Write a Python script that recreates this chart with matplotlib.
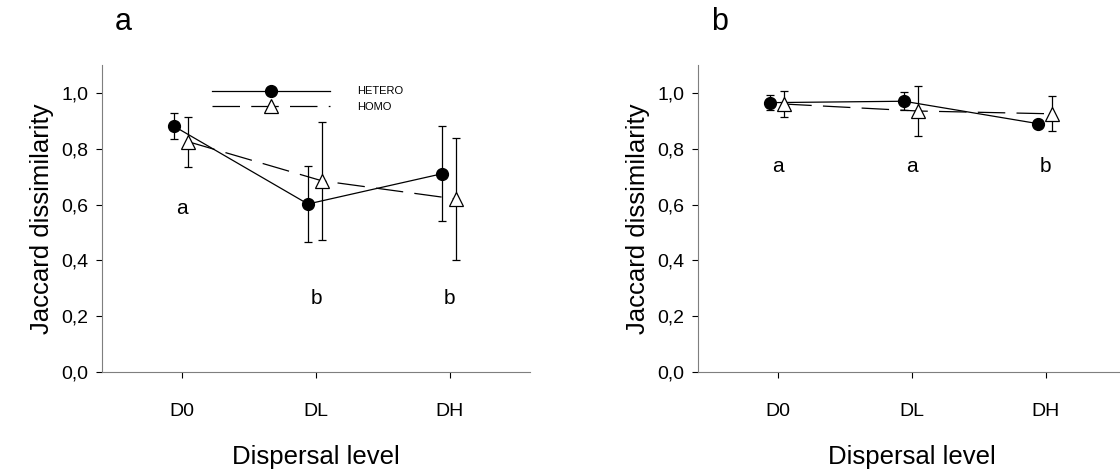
import matplotlib.pyplot as plt
from matplotlib.lines import Line2D
import numpy as np

plt.rcParams['font.family'] = ['Liberation Sans', 'DejaVu Sans']

levels = ['D0', 'DL', 'DH']

# panel a
hetero_a = [0.88, 0.602, 0.71]
hetero_a_err = [0.047, 0.135, 0.17]
homo_a = [0.825, 0.685, 0.62]
homo_a_err = [0.09, 0.212, 0.218]
letters_a = ['a', 'b', 'b']
letters_a_y = [0.585, 0.265, 0.265]

# panel b
hetero_b = [0.965, 0.97, 0.89]
hetero_b_err = [0.027, 0.033, 0.01]
homo_b = [0.96, 0.935, 0.925]
homo_b_err = [0.045, 0.09, 0.063]
letters_b = ['a', 'a', 'b']
letters_b_y = [0.735, 0.735, 0.735]

yticks = [0.0, 0.2, 0.4, 0.6, 0.8, 1.0]
ytick_labels = ['0,0', '0,2', '0,4', '0,6', '0,8', '1,0']

fig = plt.figure(figsize=(11.2, 4.74), dpi=100)
ax_a = fig.add_axes([0.0911, 0.215, 0.382, 0.648])
ax_b = fig.add_axes([0.6232, 0.215, 0.382, 0.648])

x = np.arange(1, 4)
spine_col = '#7f7f7f'
het_style = dict(color='black', lw=0.9, marker='o', ms=8.5,
                 mfc='black', mec='black')
hom_style = dict(color='black', lw=0.9, ls=(0, (22, 9)), marker='^', ms=10,
                 mfc='white', mec='black', mew=0.9)


def draw_panel(ax, het, het_err, hom, hom_err, letters, letters_y, tag):
    ax.errorbar(x - 0.06, het, yerr=het_err, capsize=3, elinewidth=0.9,
                capthick=0.9, zorder=3, **het_style)
    ax.errorbar(x + 0.045, hom, yerr=hom_err, capsize=3, elinewidth=0.9,
                capthick=0.9, zorder=3, **hom_style)
    for xi, t, ty in zip(x, letters, letters_y):
        ax.text(xi, ty, t, ha='center', va='center', fontsize=15)
    ax.set_xlim(0.4, 3.6)
    ax.set_ylim(0, 1.1)
    ax.set_xticks(x)
    ax.set_xticklabels(levels, fontsize=14)
    ax.set_yticks(yticks)
    ax.set_yticklabels(ytick_labels, fontsize=14)
    ax.spines['top'].set_visible(False)
    ax.spines['right'].set_visible(False)
    ax.spines['left'].set_color(spine_col)
    ax.spines['bottom'].set_color(spine_col)
    ax.tick_params(axis='both', direction='out', length=4, width=0.8,
                   color='black')
    ax.tick_params(axis='x', pad=18)
    ax.tick_params(axis='y', pad=6)
    ax.set_xlabel('Dispersal level', fontsize=18.5, labelpad=18)
    ax.set_ylabel('Jaccard dissimilarity', fontsize=18.5, labelpad=5)
    ax.text(0.05, 1.14, tag, transform=ax.transAxes, fontsize=22,
            ha='center', va='center')


draw_panel(ax_a, hetero_a, hetero_a_err, homo_a, homo_a_err,
           letters_a, letters_a_y, 'a')
draw_panel(ax_b, hetero_b, hetero_b_err, homo_b, homo_b_err,
           letters_b, letters_b_y, 'b')

handles = [Line2D([], [], **het_style), Line2D([], [], **hom_style)]
leg = ax_a.legend(handles, ['HETERO', 'HOMO'], loc='upper left',
                  bbox_to_anchor=(0.257, 0.93),
                  frameon=False, fontsize=8, handlelength=10.6,
                  handletextpad=2.5, labelspacing=0.5, borderpad=0,
                  borderaxespad=0)

fig.savefig('out.png', dpi=100)
